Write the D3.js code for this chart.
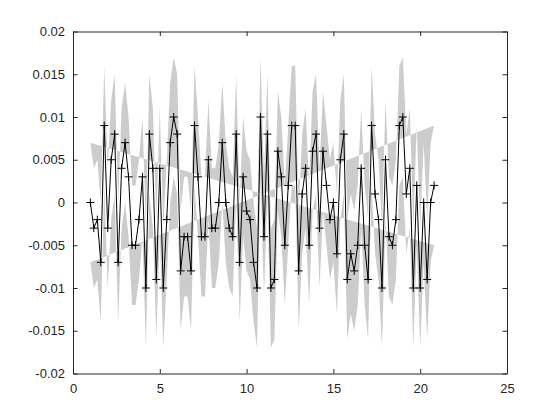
<!DOCTYPE html>
<html>
<head>
<meta charset="utf-8">
<script src="https://cdn.jsdelivr.net/npm/d3@7"></script>
<style>
  html, body { margin: 0; padding: 0; background: #ffffff; }
  svg { display: block; }
</style>
</head>
<body>
<svg id="chart" width="560" height="420"></svg>
<script>
// ---- data ----
const xValues = [
  1.0, 1.2, 1.4, 1.6, 1.8, 2.0, 2.2, 2.4, 2.6, 2.8,
  3.0, 3.2, 3.4, 3.6, 3.8, 4.0, 4.2, 4.4, 4.6, 4.8,
  5.0, 5.2, 5.4, 5.6, 5.8, 6.0, 6.2, 6.4, 6.6, 6.8,
  7.0, 7.2, 7.4, 7.6, 7.8, 8.0, 8.2, 8.4, 8.6, 8.8,
  9.0, 9.2, 9.4, 9.6, 9.8, 10.0, 10.2, 10.4, 10.6, 10.8,
  11.0, 11.2, 11.4, 11.6, 11.8, 12.0, 12.2, 12.4, 12.6, 12.8,
  13.0, 13.2, 13.4, 13.6, 13.8, 14.0, 14.2, 14.4, 14.6, 14.8,
  15.0, 15.2, 15.4, 15.6, 15.8, 16.0, 16.2, 16.4, 16.6, 16.8,
  17.0, 17.2, 17.4, 17.6, 17.8, 18.0, 18.2, 18.4, 18.6, 18.8,
  19.0, 19.2, 19.4, 19.6, 19.8, 20.0, 20.2, 20.4, 20.6, 20.8
];
const yValues = [
   0.000, -0.003, -0.002, -0.007,  0.009, -0.003,  0.005,  0.008, -0.007,  0.004,
   0.007,  0.003, -0.005, -0.005, -0.002,  0.003, -0.010,  0.008,  0.004, -0.009,
   0.004, -0.010, -0.002,  0.007,  0.010,  0.008, -0.008, -0.004, -0.004, -0.008,
   0.009,  0.003, -0.004, -0.004,  0.005, -0.003, -0.003,  0.000,  0.007,  0.000,
  -0.003, -0.004,  0.008, -0.007,  0.003, -0.001, -0.002, -0.007, -0.010,  0.010,
  -0.004,  0.008, -0.010, -0.009,  0.006,  0.003, -0.005,  0.002,  0.009,  0.009,
  -0.008,  0.001,  0.004, -0.005,  0.006,  0.008, -0.003,  0.006,  0.002, -0.002,
   0.000, -0.006,  0.005,  0.008, -0.009, -0.006, -0.008, -0.005,  0.004, -0.005,
  -0.009,  0.009,  0.001, -0.002, -0.010,  0.005, -0.004, -0.005, -0.002,  0.009,
   0.010,  0.001,  0.004, -0.010,  0.002, -0.010,  0.000, -0.009,  0.000,  0.002
];
const bandHalfWidth = 0.007;
const xTicks = [0, 5, 10, 15, 20, 25];
const yTicks = [-0.02, -0.015, -0.01, -0.005, 0, 0.005, 0.01, 0.015, 0.02];
const yTickLabels = ["-0.02", "-0.015", "-0.01", "-0.005", "0", "0.005", "0.01", "0.015", "0.02"];

(function () {
  // ---- layout ----
  const svg = d3.select("#chart");
  const padLeft = 73, padRight = 507, padTop = 31.5, padBottom = 373.5;
  const axisColor = "#262626";
  const fontFamily = "'Liberation Sans', Arial, Helvetica, sans-serif";
  const fontSize = 13;
  const tickLen = 4.5;

  const x = d3.scaleLinear().domain([0, 25]).range([padLeft, padRight]);
  const y = d3.scaleLinear().domain([-0.02, 0.02]).range([padBottom, padTop]);

  // ---- shaded band (upper chain then lower chain, not reversed) ----
  const upper = xValues.map((xv, i) => [xv, yValues[i] + bandHalfWidth]);
  const lower = xValues.map((xv, i) => [xv, yValues[i] - bandHalfWidth]);
  const poly = upper.concat(lower);
  const lineGen = d3.line().x(d => x(d[0])).y(d => y(d[1]));
  svg.append("path")
    .attr("d", lineGen(poly) + "Z")
    .attr("fill", "#cccccc")
    .attr("fill-rule", "evenodd")
    .attr("stroke", "none");

  // ---- data line ----
  const pts = xValues.map((xv, i) => [xv, yValues[i]]);
  svg.append("path")
    .attr("d", lineGen(pts))
    .attr("fill", "none")
    .attr("stroke", "#000000")
    .attr("stroke-width", 1);

  // ---- plus markers ----
  const m = 4;
  svg.append("g").selectAll("path")
    .data(pts)
    .join("path")
    .attr("d", d => {
      const cx = x(d[0]), cy = y(d[1]);
      return `M${cx - m},${cy}H${cx + m}M${cx},${cy - m}V${cy + m}`;
    })
    .attr("stroke", "#000000")
    .attr("stroke-width", 1)
    .attr("fill", "none");

  // ---- axes (MATLAB style box with inward ticks) ----
  const gAxes = svg.append("g");
  const xAxisB = d3.axisBottom(x).tickValues(xTicks).tickSizeInner(-tickLen).tickSizeOuter(0).tickPadding(10).tickFormat(d3.format("d"));
  gAxes.append("g").attr("transform", `translate(0,${padBottom})`).call(xAxisB);
  const xAxisT = d3.axisTop(x).tickValues(xTicks).tickSizeInner(-tickLen).tickSizeOuter(0).tickFormat("");
  gAxes.append("g").attr("transform", `translate(0,${padTop})`).call(xAxisT);
  const yAxisL = d3.axisLeft(y).tickValues(yTicks).tickSizeInner(-tickLen).tickSizeOuter(0).tickPadding(8)
    .tickFormat((d, i) => yTickLabels[i]);
  gAxes.append("g").attr("transform", `translate(${padLeft},0)`).call(yAxisL);
  const yAxisR = d3.axisRight(y).tickValues(yTicks).tickSizeInner(-tickLen).tickSizeOuter(0).tickFormat("");
  gAxes.append("g").attr("transform", `translate(${padRight},0)`).call(yAxisR);

  gAxes.selectAll(".domain").attr("stroke", axisColor).attr("stroke-width", 1);
  gAxes.selectAll(".tick line").attr("stroke", axisColor).attr("stroke-width", 1);
  gAxes.selectAll(".tick text")
    .attr("fill", axisColor)
    .style("font-family", fontFamily)
    .style("font-size", fontSize + "px");
})();
</script>
</body>
</html>
